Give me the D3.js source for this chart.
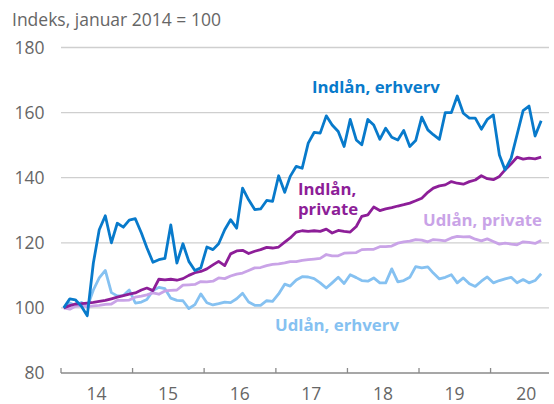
<!DOCTYPE html>
<html>
<head>
<meta charset="utf-8">
<script src="https://cdn.jsdelivr.net/npm/d3@7"></script>
<style>
  body { margin: 0; background: #fff; }
  svg { display: block; font-family: "Open Sans", "Noto Sans", sans-serif; }
</style>
</head>
<body>
<div id="chart"></div>
<script>
// månedlige værdier, januar 2014 - september 2020
const indlanErhverv = [
  100, 102.8, 102.5, 100.5, 97.6, 113.8, 124, 128.3, 120, 126, 124.8, 127,
  127.4, 123, 118.5, 114, 114.8, 115.2, 125.5, 113.8, 119.7, 114.3, 111.5, 112.3,
  118.7, 117.9, 119.7, 124, 127.1, 124.5, 136.8, 133.2, 130.2, 130.4, 133, 132.7,
  140.6, 135.5, 140.4, 143.5, 142.9, 150.6, 153.9, 153.7, 159, 156.2, 154.2, 149.6,
  157.9, 151.6, 150.1, 157.9, 156.2, 151.8, 155.2, 152.4, 151.6, 154.5, 149.6, 151.4,
  158.6, 154.7, 153.2, 151.8, 160, 160, 165.1, 159.8, 158.3, 158.3, 154.9, 157.9,
  159.3, 147, 142.4, 146, 153.2, 160.6, 162, 152.8, 157.5
];
const indlanPrivate = [
  100, 100.7, 101.2, 101.3, 101.5, 101.7, 102, 102.3, 102.8, 103.3, 103.8, 104.2,
  104.6, 105.5, 106.1, 105.3, 108.8, 108.6, 108.8, 108.5, 109, 110, 110.8, 111.2,
  112, 113.2, 114.3, 113, 116.6, 117.5, 117.7, 116.7, 117.4, 117.9, 118.6, 118.4,
  118.7, 120.2, 121.5, 123.3, 123.7, 123.5, 123.7, 123.5, 124.2, 123, 123.8, 123.5,
  123.3, 125, 128.1, 128.6, 131, 129.9, 130.4, 130.8, 131.3, 131.7, 132.2, 132.9,
  133.7, 135.5, 136.8, 137.5, 137.8, 138.8, 138.3, 138, 138.8, 139.3, 140.6, 139.7,
  139.4, 140.4, 142.4, 144.3, 146.3, 145.7, 146, 145.8, 146.3
];
const udlanPrivate = [
  100, 99.6, 100.5, 100.7, 100.4, 100.6, 100.8, 101.1, 101.2, 102.3, 102.3, 102.4,
  103.3, 103.6, 104, 104.6, 104.2, 105.2, 105.4, 105.5, 107, 107.1, 107.2, 108.1,
  108, 108.2, 109.2, 109, 109.8, 110.4, 110.7, 111.5, 112.3, 112.4, 113, 113.4,
  113.5, 113.8, 114.2, 114.2, 114.6, 114.8, 115, 115.2, 116.4, 116, 116, 116.8,
  116.9, 117, 117.9, 118, 118, 118.8, 118.8, 119, 119.9, 120.3, 120.5, 121,
  120.8, 120.3, 121, 120.8, 120.6, 121.5, 122, 121.8, 121.9, 121.1, 120.6, 121.2,
  120.4, 119.6, 119.9, 119.6, 119.4, 120.3, 120.1, 119.8, 120.7
];
const udlanErhverv = [
  100, 101.5, 100.7, 101.7, 100.3, 105.5, 109.2, 111.5, 104.7, 103.7, 103.8, 105.5,
  101.5, 101.8, 102.6, 105.3, 106.3, 105.9, 103, 102.3, 102.2, 99.8, 101, 104.3,
  101.6, 100.9, 101.3, 101.8, 101.6, 102.8, 104.5, 101.8, 100.8, 100.8, 102.2, 102,
  104.3, 107.3, 106.7, 108.6, 109.6, 109.5, 109, 107.7, 106.1, 107.7, 109.4, 107.5,
  110.2, 109.3, 108.4, 108.2, 109.2, 107.7, 107.7, 112, 108, 108.4, 109.4, 112.7,
  112.3, 112.6, 110.7, 108.9, 109.4, 110.2, 107.7, 109.2, 107.4, 106.6, 108.2, 109.5,
  107.7, 108.4, 108.9, 109.4, 107.7, 108.7, 107.7, 108.4, 110.5
];
const yTicks = [80, 100, 120, 140, 160, 180];
const years = [2014, 2015, 2016, 2017, 2018, 2019, 2020];

const series = [
  { name: "Udlån, erhverv", values: udlanErhverv, color: "#85c1f1" },
  { name: "Udlån, private", values: udlanPrivate, color: "#c9a3e7" },
  { name: "Indlån, private", values: indlanPrivate, color: "#8d1e98" },
  { name: "Indlån, erhverv", values: indlanErhverv, color: "#087acb" }
];

const W = 554, H = 404;
const svg = d3.select("#chart").append("svg").attr("width", W).attr("height", H);

const x = d3.scaleTime()
  .domain([new Date(2014, 0, 1), new Date(2020, 9, 25)])
  .range([61, 549]);
const y = d3.scaleLinear().domain([80, 180]).range([373, 47.5]);

// titel
svg.append("text")
  .attr("x", 12).attr("y", 26)
  .attr("fill", "#666")
  .style("font-size", "17.5px")
  .text("Indeks, januar 2014 = 100");

// gitterlinjer
svg.append("g")
  .selectAll("line")
  .data(yTicks.filter(d => d > 80))
  .join("line")
  .attr("x1", 61).attr("x2", 549)
  .attr("y1", d => y(d)).attr("y2", d => y(d))
  .attr("stroke", "#cfcfcf").attr("stroke-width", 1.3);

svg.append("g")
  .selectAll("text")
  .data(yTicks)
  .join("text")
  .attr("x", 44.5).attr("y", d => y(d))
  .attr("dy", "0.36em")
  .attr("text-anchor", "end")
  .attr("fill", "#666")
  .style("font-size", "17.5px")
  .text(d => d);

// x-akse
svg.append("line")
  .attr("x1", 61).attr("x2", 549)
  .attr("y1", y(80)).attr("y2", y(80))
  .attr("stroke", "#8a8a8a").attr("stroke-width", 1.5);

svg.append("g")
  .selectAll("line")
  .data(years)
  .join("line")
  .attr("x1", d => x(new Date(d, 0, 1))).attr("x2", d => x(new Date(d, 0, 1)))
  .attr("y1", y(80)).attr("y2", y(80) - 5)
  .attr("stroke", "#8a8a8a").attr("stroke-width", 1.3);

svg.append("g")
  .selectAll("text")
  .data(years)
  .join("text")
  .attr("x", d => x(new Date(d, 6, 1)))
  .attr("y", 400)
  .attr("text-anchor", "middle")
  .attr("fill", "#666")
  .style("font-size", "17.5px")
  .text(d => d3.timeFormat("%y")(new Date(d, 0, 1)));

// linjer
const line = d3.line()
  .x((d, i) => x(new Date(2014, i, 15)))
  .y(d => y(d));

svg.append("g")
  .selectAll("path")
  .data(series)
  .join("path")
  .attr("d", d => line(d.values))
  .attr("fill", "none")
  .attr("stroke", d => d.color)
  .attr("stroke-width", 2.8)
  .attr("stroke-linejoin", "round");

// etiketter
const labels = [
  { lines: ["Indlån, erhverv"], x: 312, y: 93, color: "#087acb" },
  { lines: ["Indlån,", "private"], x: 298, y: 195, color: "#8d1e98" },
  { lines: ["Udlån, private"], x: 423, y: 226, color: "#c9a3e7" },
  { lines: ["Udlån, erhverv"], x: 275, y: 331, color: "#85c1f1" }
];
labels.forEach(l => {
  const t = svg.append("text")
    .attr("x", l.x).attr("y", l.y)
    .attr("fill", l.color)
    .style("font-size", "16.8px")
    .style("font-weight", "bold");
  l.lines.forEach((s, i) => {
    t.append("tspan").attr("x", l.x).attr("dy", i === 0 ? 0 : 20).text(s);
  });
});
</script>
</body>
</html>
